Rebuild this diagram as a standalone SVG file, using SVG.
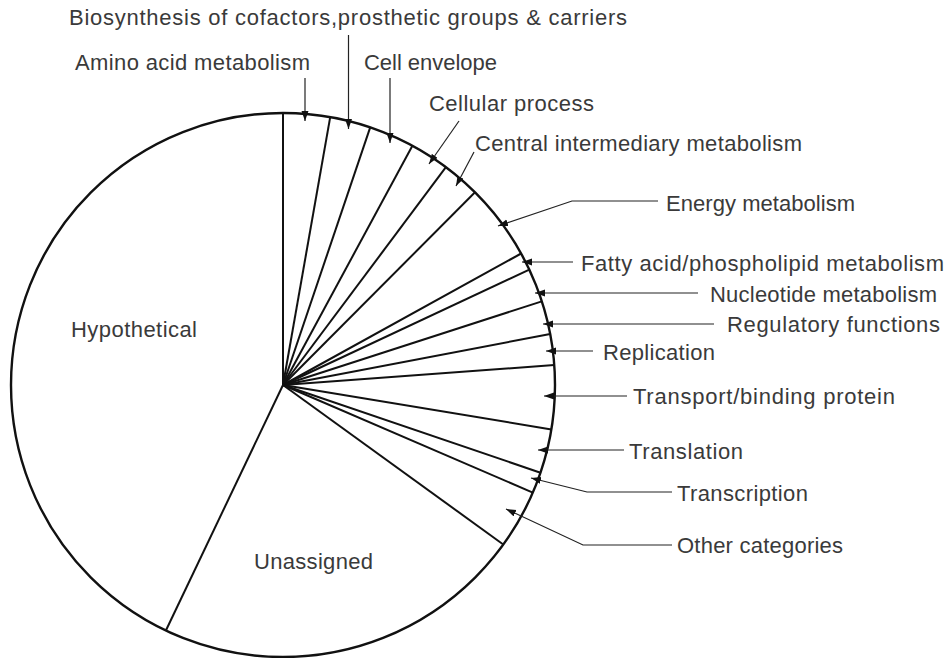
<svg xmlns="http://www.w3.org/2000/svg" width="951" height="658" viewBox="0 0 951 658">
<defs>
<marker id="ah" markerUnits="userSpaceOnUse" markerWidth="11" markerHeight="8" refX="10" refY="3.5" orient="auto">
<path d="M0,0 L10,3.5 L0,7 z" fill="#111"/>
</marker>
<style>
.lbl{font-family:"Liberation Sans",Arial,sans-serif;font-size:22px;fill:#3a3a3a}
.rad{stroke:#111;stroke-width:2;fill:none}
.ld{stroke:#222;stroke-width:1.2;fill:none;marker-end:url(#ah)}
</style>
</defs>
<rect width="951" height="658" fill="#fff"/>
<g id="pie">
<circle cx="283" cy="385" r="272" fill="#fff" stroke="#111" stroke-width="2.4"/>
</g>
<g id="amino-acid-metabolism"><line class="rad" x1="283" y1="385" x2="283" y2="113"/><text class="lbl" x="75" y="70" textLength="235" lengthAdjust="spacing">Amino acid metabolism</text></g>
<g id="biosynthesis"><line class="rad" x1="283" y1="385" x2="330.2" y2="117.1"/><text class="lbl" x="69" y="25" textLength="558" lengthAdjust="spacing">Biosynthesis of cofactors,prosthetic groups &amp; carriers</text></g>
<g id="cell-envelope"><line class="rad" x1="283" y1="385" x2="370.2" y2="127.4"/><text class="lbl" x="364" y="70" textLength="133" lengthAdjust="spacing">Cell envelope</text></g>
<g id="cellular-process"><line class="rad" x1="283" y1="385" x2="412.4" y2="145.7"/><text class="lbl" x="429" y="111" textLength="165" lengthAdjust="spacing">Cellular process</text></g>
<g id="central-intermediary"><line class="rad" x1="283" y1="385" x2="445.9" y2="167.2"/><text class="lbl" x="475" y="151" textLength="327" lengthAdjust="spacing">Central intermediary metabolism</text></g>
<g id="energy-metabolism"><line class="rad" x1="283" y1="385" x2="475" y2="192.3"/><text class="lbl" x="666" y="211" textLength="189" lengthAdjust="spacing">Energy metabolism</text></g>
<g id="fatty-acid"><line class="rad" x1="283" y1="385" x2="521.1" y2="253.5"/><text class="lbl" x="581" y="271" textLength="363" lengthAdjust="spacing">Fatty acid/phospholipid metabolism</text></g>
<g id="nucleotide-metabolism"><line class="rad" x1="283" y1="385" x2="529.3" y2="269.6"/><text class="lbl" x="710" y="302" textLength="227" lengthAdjust="spacing">Nucleotide metabolism</text></g>
<g id="regulatory-functions"><line class="rad" x1="283" y1="385" x2="541.8" y2="301.4"/><text class="lbl" x="727" y="332" textLength="213" lengthAdjust="spacing">Regulatory functions</text></g>
<g id="replication"><line class="rad" x1="283" y1="385" x2="550.2" y2="334"/><text class="lbl" x="603" y="360" textLength="112" lengthAdjust="spacing">Replication</text></g>
<g id="transport"><line class="rad" x1="283" y1="385" x2="554.3" y2="365.1"/><text class="lbl" x="633" y="404" textLength="262" lengthAdjust="spacing">Transport/binding protein</text></g>
<g id="translation"><line class="rad" x1="283" y1="385" x2="551.4" y2="429.4"/><text class="lbl" x="629" y="459" textLength="114" lengthAdjust="spacing">Translation</text></g>
<g id="transcription"><line class="rad" x1="283" y1="385" x2="540.5" y2="472.7"/><text class="lbl" x="677" y="501" textLength="131" lengthAdjust="spacing">Transcription</text></g>
<g id="other-categories"><line class="rad" x1="283" y1="385" x2="532.8" y2="492.6"/><text class="lbl" x="677" y="553" textLength="166" lengthAdjust="spacing">Other categories</text></g>
<g id="unassigned"><line class="rad" x1="283" y1="385" x2="503.3" y2="544.5"/><text class="lbl" x="254" y="569" textLength="119" lengthAdjust="spacing">Unassigned</text></g>
<g id="hypothetical"><line class="rad" x1="283" y1="385" x2="165.9" y2="630.5"/><text class="lbl" x="71" y="337" textLength="126" lengthAdjust="spacing">Hypothetical</text></g>
<g id="connectors">
<path class="ld" d="M305,78 L305,121"/>
<path class="ld" d="M348.5,35 L348.5,129"/>
<path class="ld" d="M390,78 L390,143"/>
<path class="ld" d="M459,121 L429,164"/>
<path class="ld" d="M474,152 L456,186"/>
<path class="ld" d="M658,201 L572,201 L498,226"/>
<path class="ld" d="M573,262 L522,262"/>
<path class="ld" d="M698,293 L535,293"/>
<path class="ld" d="M714,324 L543,324"/>
<path class="ld" d="M593,351 L546,351"/>
<path class="ld" d="M627,396 L544,396"/>
<path class="ld" d="M624,450 L538,450"/>
<path class="ld" d="M672,492 L587,492 L531,478"/>
<path class="ld" d="M672,545 L583,545 L506,509"/>
</g>
</svg>
